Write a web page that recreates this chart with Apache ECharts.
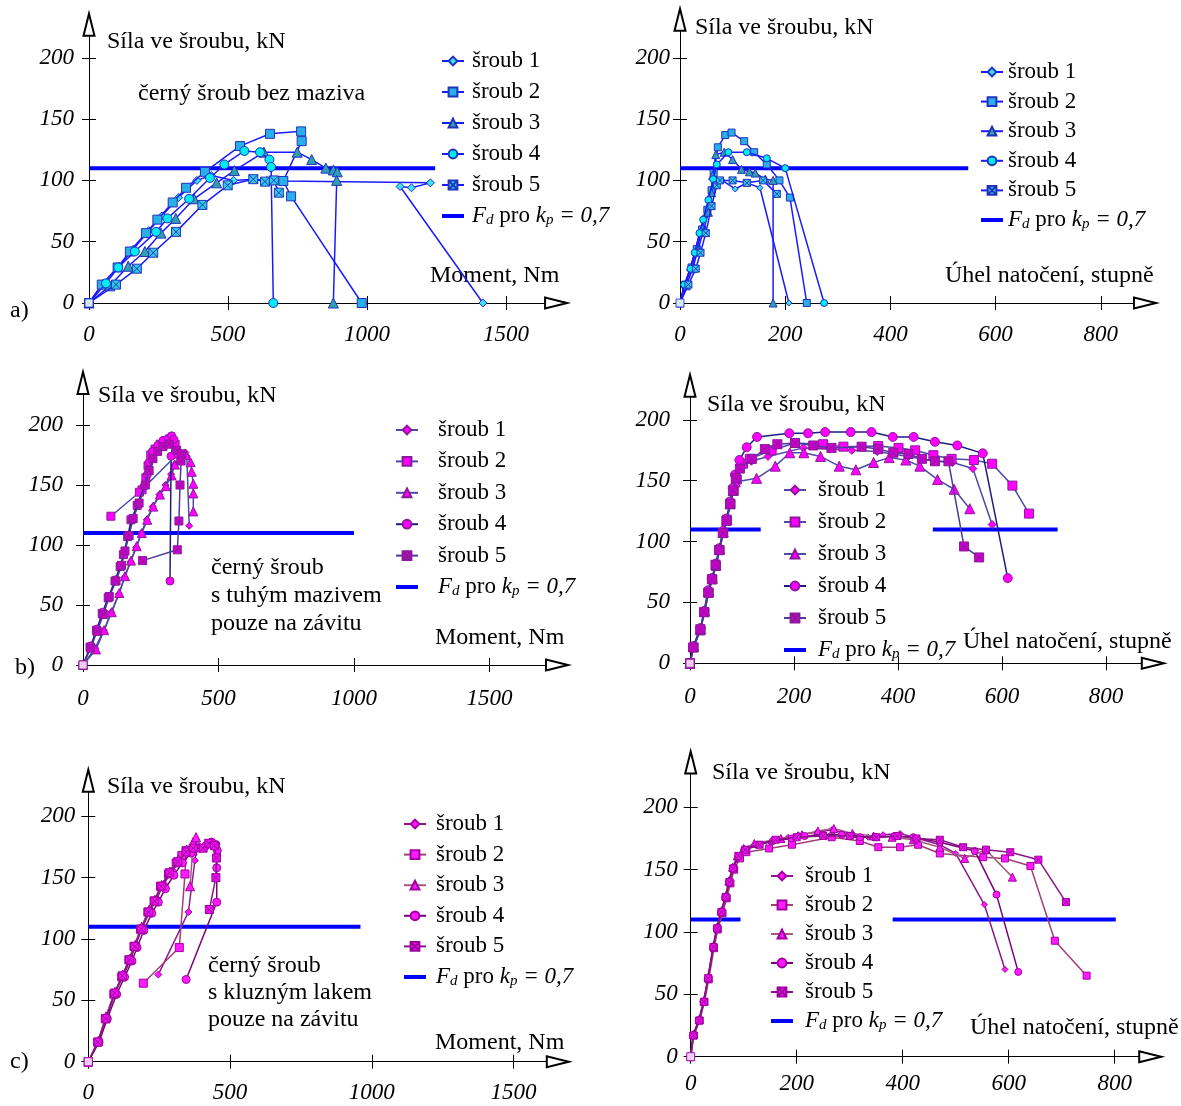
<!DOCTYPE html>
<html>
<head>
<meta charset="utf-8">
<script src="https://cdn.jsdelivr.net/npm/echarts@6/dist/echarts.min.js"></script>
<style>
  html, body { margin: 0; padding: 0; background: #fff; }
  #chart { width: 1181px; height: 1106px; }
</style>
</head>
<body>
<div id="chart"></div>
<script>
// ---- data ----
var momentTicks = [0, 500, 1000, 1500];
var angleTicks = [0, 200, 400, 600, 800];
var forceTicks = [0, 50, 100, 150, 200];
var boltNames = ['šroub 1', 'šroub 2', 'šroub 3', 'šroub 4', 'šroub 5'];

// a) black bolt, no lubricant - force vs moment
var aMom1 = [[0,0],[50,16],[108,30],[160,44],[215,59],[262,71],[322,86],[388,100],[440,104],[520,100],[590,101],[640,100],[699,99.5],[1228,98],[1160,94],[1119,95],[1417,0]];
var aMom2 = [[0,0],[46,15],[103,29],[147,42],[205,57],[246,68],[301,82],[349,94],[417,107],[543,128],[651,138],[763,140],[765,132],[699,99.5],[727,87],[981,0]];
var aMom3 = [[0,0],[75,14],[141,30],[201,42],[259,57],[312,69],[378,85],[459,98],[523,108],[629,123],[749,123],[801,117],[852,110],[879,108.5],[893,107],[891,100],[879,0]];
var aMom4 = [[0,0],[61,16],[105,29],[165,42],[241,58],[282,69],[360,85],[435,102],[487,113],[559,124],[615,123],[649,117],[655,111],[663,0]];
var aMom5 = [[0,0],[97,15],[172,28],[231,41],[313,58],[408,80],[499,96],[591,101],[633,99],[665,100],[683,90]];
var aMomFd = [[0,110],[1245,110]];

// a) force vs angle
var aAng1 = [[0,0],[8,13],[18,27],[28,41],[37,56],[46,70],[55,85],[65,97],[80,100],[105,93],[127,98],[152,94],[207,0]];
var aAng2 = [[0,0],[10,15],[22,29],[32,44],[42,60],[52,76],[60,92],[64,106],[72,127],[86,137],[98,139],[122,132],[141,123],[165,113],[189,100],[209,86],[241,0]];
var aAng3 = [[0,0],[12,14],[24,28],[34,43],[44,58],[54,74],[60,90],[62,104],[68,121],[84,123],[100,117],[117,109],[132,107],[143,106],[162,101],[177,100],[177,0]];
var aAng4 = [[0,0],[8,15],[20,28],[28,41],[37,57],[44,68],[54,84],[63,101],[70,113],[92,123],[127,123],[165,118],[200,110],[274,0]];
var aAng5 = [[0,0],[16,15],[30,28],[39,41],[49,57],[60,79],[70,96],[76,100],[100,100],[127,98],[158,100],[184,89]];
var aAngFd = [[0,110],[548,110]];

// b) solid lubricant on thread - force vs moment
var bMom1 = [[0,0],[45,14],[77,29],[104,44],[132,59],[153,73],[175,86],[196,98],[215,110],[235,121],[257,132],[282,142],[304,150],[325,159],[337,167],[356,172],[378,177],[383,174],[392,116]];
var bMom2 = [[0,0],[26,15],[50,29],[71,43],[93,56],[118,70],[137,82],[149,92],[165,107],[177,121],[200,133],[218,146],[232,156],[240,166],[250,175],[266,180],[285,184],[305,187],[320,188],[340,184],[350,176],[208,144],[103,124]];
var bMom3 = [[0,0],[48,13],[78,29],[106,44],[134,60],[155,74],[177,87],[198,99],[217,110],[237,121],[259,132],[284,142],[306,149],[327,158],[339,167],[358,172],[380,175],[397,169],[401,161],[407,151],[407,143],[407,128]];
var bMom4 = [[0,0],[30,16],[52,30],[73,44],[95,57],[120,71],[139,83],[151,92],[167,108],[180,121],[203,134],[226,149],[238,159],[244,169],[256,178],[276,183],[295,187],[315,189],[327,191],[335,188],[325,174],[321,70]];
var bMom5 = [[0,0],[28,14],[52,28],[75,42],[97,57],[122,70],[142,83],[155,95],[170,108],[185,122],[207,135],[230,150],[244,162],[258,172],[275,178],[295,182],[318,184],[346,179],[364,176],[362,170],[358,150],[354,120],[348,96],[220,87]];
var bMomFd = [[0,110],[1000,110]];

// b) force vs angle
var bAng1 = [[0,0],[7,14],[21,29],[28,43],[36,59],[43,70],[50,81],[57,95],[64,108],[71,119],[78,132],[84,143],[90,153],[100,162],[118,166],[150,170],[218,177],[269,176],[311,175],[360,174],[420,170],[470,166],[505,165],[544,160],[581,114]];
var bAng2 = [[0,0],[7,13],[20,27],[28,42],[36,58],[43,69],[50,80],[57,93],[64,107],[71,118],[78,131],[84,142],[90,151],[102,164],[115,168],[157,175],[202,181],[256,180],[295,178],[362,178.5],[401,177],[433,175],[468,171],[503,168],[546,167],[581,164],[620,146],[652,123]];
var bAng3 = [[0,0],[7,14],[20,28],[28,43],[36,59],[43,70],[50,81],[57,94],[64,108],[71,118],[77,131],[83,142],[87,149],[128,152],[164,162],[192,173],[219,173],[251,170],[287,162],[319,159],[353,165],[383,169],[415,167],[442,162],[476,151],[508,143],[538,127]];
var bAng4 = [[0,0],[6,14],[20.5,29],[27,43],[35,60],[42,70],[50,82],[56,94.5],[64,109],[70.5,119],[77,133],[82,144],[86.5,155],[95,167],[109,177.5],[129,186],[191,189],[227,189],[260,190],[309,190],[349,190],[390,186],[430,186],[471,182],[514,179],[563,172.5],[611,70]];
var bAng5 = [[0,0],[6,13],[20,28],[27,42],[35,58],[42,69],[49,81],[56,93],[63,107],[70,117],[77,131],[83,142],[88,152],[96,160],[119,168],[144,176],[168,180],[202,181],[237,179],[272,177],[330,178],[362,176],[391,173],[420,172],[446,168],[471,166],[497,166],[527,96],[556,87]];
var bAngFdLow = [[0,110],[136,110]];
var bAngFdHigh = [[467,110],[707,110]];

// c) sliding lacquer on thread - force vs moment
var cMom1 = [[0,0],[36,17],[64,36],[96,57],[124,70],[150,84],[168,96],[192,110],[220,124],[242,133],[267,145],[297,156],[327,165],[356,172],[385,177],[376,164],[353,122],[247,71]];
var cMom2 = [[0,0],[33,16],[60,35],[90,55],[118,69],[143,83],[161,94],[184,108],[210,122],[232,131],[255,143],[283,153],[310,162],[330,168],[345,172],[341,153],[321,93],[194,64]];
var cMom3 = [[0,0],[35,17],[62,37],[94,57],[121,71],[147,84],[165,95],[188,110],[215,124],[235,132],[259,144],[288,155],[317,165],[347,173],[370,179],[380,183],[368,172],[359,143]];
var cMom4 = [[0,0],[38,16],[67,35],[100,55],[128,69],[154,82],[172,93],[196,107],[224,121],[247,130],[272,141],[302,152],[332,162],[362,170],[392,174],[415,176],[435,179],[450,177],[455,172],[453,158],[453,130],[345,67]];
var cMom5 = [[0,0],[34,16],[62,35],[93,56],[120,70],[146,83],[164,94],[187,108],[213,122],[234,131],[257,143],[286,154],[316,163],[345,171],[370,174],[405,174],[425,178],[445,176],[452,166],[450,150],[427,124]];
var cMomFd = [[0,110],[960,110]];

// c) force vs angle
var cAng1 = [[0,0],[5,17],[16,29],[25,44],[33,63],[43,88],[50,103],[58,116],[67,128],[73,140],[80,151],[90,160],[102,166],[121,170],[150,172],[184,176],[203,178],[238,180],[266,182],[307,178],[335,176],[363,178],[395,179],[429,175],[470,170],[500,163],[554,122],[593,70]];
var cAng2 = [[0,0],[6,17],[17,29],[26,44],[34,62],[44,87],[51,102],[60,115],[68,127],[75,139],[82,150],[93,159],[105,164],[148,167],[191,170],[266,176],[319,173],[354,168],[395,168],[429,170],[470,163],[552,160],[593,159],[641,153],[687,93],[747,65]];
var cAng3 = [[0,0],[5,18],[16,30],[25,45],[33,64],[43,89],[50,104],[58,117],[66,129],[72,141],[79,152],[88,161],[100,167],[120,171],[170,175],[210,178],[240,181],[270,183],[305,179],[345,177],[380,176],[420,174],[470,168],[517,159],[557,166],[607,144]];
var cAng4 = [[0,0],[4,17],[15,29],[24,44],[32,62],[42,88],[49,103],[57,116],[65,128],[72,140],[79,151],[89,160],[101,166],[125,170],[155,173],[190,175],[215,177],[250,178],[285,178],[320,176],[350,176],[385,177],[420,176],[470,172],[536,165],[577,130],[618,68]];
var cAng5 = [[0,0],[5,17],[16,29],[25,44],[33,63],[43,88],[50,103],[58,116],[66,128],[73,140],[80,151],[90,161],[103,166],[130,170],[160,174],[200,176],[250,177],[300,177],[350,176],[390,177],[426,175],[470,174],[514,168],[557,166],[603,164],[656,158],[708,124]];
var cAngFdLow = [[0,110],[94,110]];
var cAngFdHigh = [[381,110],[802,110]];

// ---- styling ----
var FONT = '"Liberation Serif", "Times New Roman", serif';
var SYM_X = 'path://M0,0H10V10H0Z M0,0L10,10 M10,0L0,10';
var symbols = ['diamond', 'rect', 'triangle', 'circle', SYM_X];
var FD_ICON = 'path://M0,0H22V4H0Z';

var themes = {
  a: { lines: ['#1a1aff', '#1a1aff', '#1a1aff', '#1a1aff', '#1a1aff'],
       fills: ['#3de0ff', '#2aaeea', '#2e9fae', '#00ecf5', '#30cbe8'], border: '#2233bb' },
  b: { lines: ['#4b4ba6', '#4b4ba6', '#4b4ba6', '#1c1c80', '#4b3a9c'],
       fills: ['#ff00ff', '#ff00ff', '#ff00ff', '#ff00ff', '#cc00cc'], border: '#8a1a9a' },
  c: { lines: ['#8a1a8a', '#a33d76', '#a35a80', '#7a007a', '#861486'],
       fills: ['#ff1aff', '#ff1aff', '#ff1aff', '#ff1aff', '#ee10ee'], border: '#a000a0' }
};

// panel layout: pixel position of the origin and pixels per unit
var panels = [
  { id: 'aM', theme: 'a', x0: 89, y0: 303, sx: 139 / 500, sy: 1.226, xmax: 1680, ymax: 227, xt: momentTicks,
    xm: 20, ym: 15, size: 9, data: [aMom1, aMom2, aMom3, aMom4, aMom5], fd: [aMomFd],
    legend: { left: 441, top: 49, gap: 7, pad: 3 } },
  { id: 'aA', theme: 'a', x0: 680, y0: 303, sx: 0.526, sy: 1.226, xmax: 884, ymax: 231, xt: angleTicks,
    xm: 20, ym: 10, size: 7, data: [aAng1, aAng2, aAng3, aAng4, aAng5], fd: [aAngFd],
    legend: { left: 980, top: 60, gap: 5.6, pad: 0 } },
  { id: 'bM', theme: 'b', x0: 83, y0: 665, sx: 0.271, sy: 1.2, xmax: 1749, ymax: 235, xt: momentTicks,
    xm: 22, ym: 20, size: 8, data: [bMom1, bMom2, bMom3, bMom4, bMom5], fd: [bMomFd],
    legend: { left: 395, top: 418, gap: 7.4, pad: 15 } },
  { id: 'bA', theme: 'b', x0: 690, y0: 663.3, sx: 0.52, sy: 1.217, xmax: 890, ymax: 228, xt: angleTicks,
    xm: 22, ym: 20, size: 9, data: [bAng1, bAng2, bAng3, bAng4, bAng5], fd: [bAngFdLow, bAngFdHigh],
    legend: { left: 783, top: 478, gap: 8, pad: 7 } },
  { id: 'cM', theme: 'c', x0: 88.3, y0: 1061.7, sx: 0.2835, sy: 1.227, xmax: 1656, ymax: 229, xt: momentTicks,
    xm: 20, ym: 13, size: 8, data: [cMom1, cMom2, cMom3, cMom4, cMom5], fd: [cMomFd],
    legend: { left: 403, top: 812, gap: 6.6, pad: 5 } },
  { id: 'cA', theme: 'c', x0: 690.7, y0: 1056.7, sx: 0.53, sy: 1.247, xmax: 867, ymax: 236, xt: angleTicks,
    xm: 16, ym: 13, size: 7, data: [cAng1, cAng2, cAng3, cAng4, cAng5], fd: [cAngFdLow, cAngFdHigh],
    legend: { left: 770, top: 864, gap: 5, pad: 7 } }
];

var labelOf = {};
var grids = [], xAxes = [], yAxes = [], series = [], legends = [];

// tick numbers: italic, no thousands separator
function tickLabel(v) { return '{n|' + v + '}'; }
var tickRich = { n: { fontFamily: FONT, fontStyle: 'italic', fontSize: 23, color: '#000' } };

panels.forEach(function (p, gi) {
  var th = themes[p.theme];
  grids.push({
    left: p.x0, top: p.y0 - p.ymax * p.sy,
    width: p.xmax * p.sx, height: p.ymax * p.sy,
    outerBoundsMode: 'none'
  });
  var tickStyle = { color: '#000', width: 1 };
  // main axes (line, arrow, outer ticks, labels)
  xAxes.push({
    gridIndex: gi, type: 'value', min: 0, max: p.xmax,
    axisLine: { symbol: ['none', 'emptyTriangle'], symbolSize: [11, 22], lineStyle: { color: '#000', width: 1 } },
    axisTick: { customValues: p.xt, length: 7, lineStyle: tickStyle },
    axisLabel: { customValues: p.xt, margin: p.xm, formatter: tickLabel, rich: tickRich,
                 fontFamily: FONT, fontStyle: 'italic', fontSize: 23, color: '#000' },
    splitLine: { show: false }
  });
  yAxes.push({
    gridIndex: gi, type: 'value', min: 0, max: p.ymax,
    axisLine: { symbol: ['none', 'emptyTriangle'], symbolSize: [11, 22], lineStyle: { color: '#000', width: 1 } },
    axisTick: { customValues: forceTicks, length: 7, lineStyle: tickStyle },
    axisLabel: { customValues: forceTicks, margin: p.ym, formatter: tickLabel, rich: tickRich,
                 fontFamily: FONT, fontStyle: 'italic', fontSize: 23, color: '#000' },
    splitLine: { show: false }
  });
  // twin axes only for the inner half of the crossing ticks
  xAxes.push({
    gridIndex: gi, type: 'value', min: 0, max: p.xmax, position: 'bottom',
    axisLine: { show: false }, axisLabel: { show: false }, splitLine: { show: false },
    axisTick: { inside: true, customValues: p.xt, length: 7, lineStyle: tickStyle }
  });
  yAxes.push({
    gridIndex: gi, type: 'value', min: 0, max: p.ymax, position: 'left',
    axisLine: { show: false }, axisLabel: { show: false }, splitLine: { show: false },
    axisTick: { inside: true, customValues: forceTicks, length: 7, lineStyle: tickStyle }
  });
  var xi = gi * 2, yi = gi * 2;

  var names = [];
  // Fd design force line(s)
  var fdName = p.id + 'Fd';
  labelOf[fdName] = '{i|F}{s|d} pro {i|k}{s|p} {i|= 0,7}';
  p.fd.forEach(function (seg) {
    series.push({
      name: fdName, type: 'line', xAxisIndex: xi, yAxisIndex: yi, data: seg,
      symbol: 'none', color: '#0000ff', itemStyle: { color: '#0000ff' },
      lineStyle: { color: '#0000ff', width: 4 }, z: 1, silent: true
    });
  });
  // bolts
  p.data.forEach(function (d, k) {
    var nm = p.id + k;
    labelOf[nm] = boltNames[k];
    names.push(nm);
    series.push({
      name: nm, type: 'line', xAxisIndex: xi, yAxisIndex: yi, data: d,
      symbol: symbols[k], symbolSize: k === 2 ? p.size + 1 : (k === 0 ? p.size - 1 : p.size),
      showSymbol: true, showAllSymbol: true,
      color: th.fills[k],
      lineStyle: { color: th.lines[k], width: 1.5 },
      itemStyle: { color: th.fills[k], borderColor: th.border, borderWidth: 1 },
      z: 3 + k
    });
  });
  // hollow square at origin
  series.push({
    type: 'scatter', xAxisIndex: xi, yAxisIndex: yi, data: [[0, 0]],
    symbol: 'rect', symbolSize: 8, z: 10, silent: true,
    itemStyle: { color: '#fff', borderColor: th.border, borderWidth: 1 }
  });
  names.push({ name: fdName, icon: FD_ICON });

  legends.push({
    orient: 'vertical', left: p.legend.left, top: p.legend.top, padding: 0,
    itemGap: p.legend.gap, itemWidth: 22, itemHeight: 11,
    data: names,
    formatter: function (n) { return labelOf[n]; },
    textStyle: {
      fontFamily: FONT, fontSize: 23, color: '#000', lineHeight: 24,
      padding: [0, 0, 0, p.legend.pad],
      rich: {
        i: { fontFamily: FONT, fontStyle: 'italic', fontSize: 23, lineHeight: 24, color: '#000' },
        s: { fontFamily: FONT, fontStyle: 'italic', fontSize: 15, lineHeight: 14, verticalAlign: 'bottom', color: '#000' }
      }
    }
  });
});

// free texts: axis titles, notes, panel letters
function txt(x, y, s, lh) {
  return {
    type: 'text', x: x, y: y, silent: true,
    style: { text: s, fontFamily: FONT, fontSize: 24, fill: '#000',
             verticalAlign: lh ? 'top' : 'middle', lineHeight: lh || 24 }
  };
}
var texts = [
  txt(107, 42, 'Síla ve šroubu, kN'),
  txt(138, 94, 'černý šroub bez maziva'),
  txt(430, 276, 'Moment, Nm'),
  txt(10, 311, 'a)'),
  txt(695, 28, 'Síla ve šroubu, kN'),
  txt(945, 276, 'Úhel natočení, stupně'),
  txt(98, 396, 'Síla ve šroubu, kN'),
  txt(211, 554, 'černý šroub\ns tuhým mazivem\npouze na závitu', 28),
  txt(435, 638, 'Moment, Nm'),
  txt(15, 668, 'b)'),
  txt(707, 405, 'Síla ve šroubu, kN'),
  txt(963, 642, 'Úhel natočení, stupně'),
  txt(107, 787, 'Síla ve šroubu, kN'),
  txt(208, 952, 'černý šroub\ns kluzným lakem\npouze na závitu', 27),
  txt(435, 1043, 'Moment, Nm'),
  txt(10, 1062, 'c)'),
  txt(712, 773, 'Síla ve šroubu, kN'),
  txt(970, 1028, 'Úhel natočení, stupně')
];

var myChart = echarts.init(document.getElementById('chart'));
myChart.setOption({
  animation: false,
  backgroundColor: '#fff',
  grid: grids,
  xAxis: xAxes,
  yAxis: yAxes,
  legend: legends,
  series: series,
  graphic: texts
});
</script>
</body>
</html>
